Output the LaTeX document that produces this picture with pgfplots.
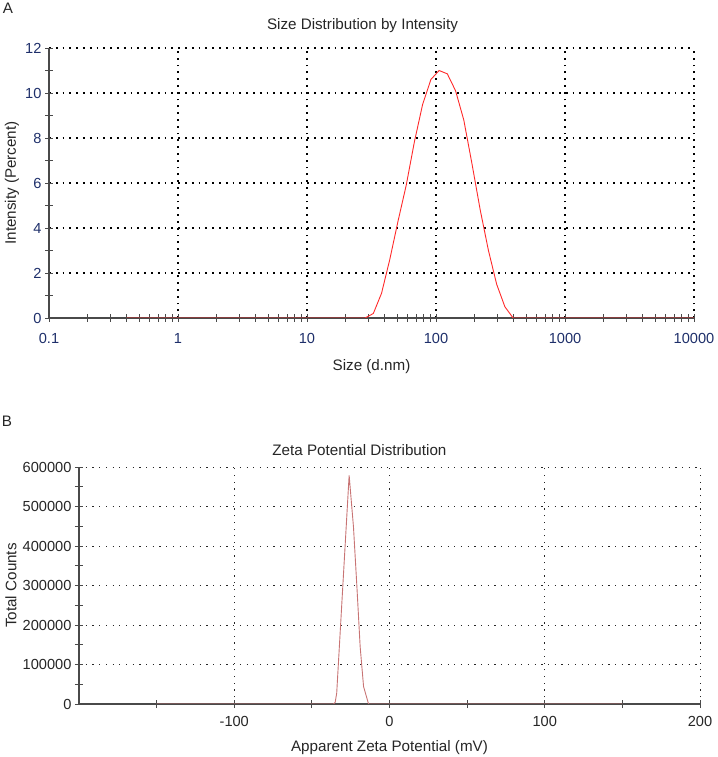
\documentclass[border=0pt]{standalone}
\usepackage{fontspec}
\setmainfont{Liberation Sans}
\usepackage{pgfplots}
\pgfplotsset{compat=1.18}
\definecolor{sizered}{HTML}{FF2A2A}
\definecolor{zetared}{HTML}{C87474}
\definecolor{tickblue}{HTML}{1E2F6A}
\definecolor{axisgray}{HTML}{4A4A4A}
\definecolor{textgray}{HTML}{262626}

\pgfplotsset{
  dlsaxis/.style={
    scale only axis,
    axis lines=left,
    axis line style={-, draw=axisgray, line width=1.3pt},
    tick style={draw=axisgray, line width=0.9pt},
    tick align=center,
    major tick length=8pt, minor tick length=8pt,
    grid=major,
    major grid style={black, line width=1.1pt, dash pattern=on 1.8pt off 5pt},
    /pgf/number format/assume math mode=true,
    ticklabel style={font=\fontsize{14.6}{17}\selectfont},
    label style={font=\fontsize{15.2}{18}\selectfont, text=textgray},
    title style={font=\fontsize{15.2}{18}\selectfont, text=textgray},
  }
}

% Size distribution (intensity %) on Zetasizer size bins
\pgfplotstableread{
size  intensity
0.4    0
28.21  0
32.67  0.2
37.84  1.1
43.82  2.6
50.75  4.3
58.77  5.9
68.06  7.84
78.82  9.5
91.28  10.6
105.7  11.0
122.4  10.85
141.8  10.1
164.2  8.8
190.1  6.85
220.2  4.8
255.0  3.0
295.3  1.5
342.0  0.5
396.1  0
10000  0
}\sizedata

% Zeta potential distribution (total counts)
\pgfplotstableread{
mv     counts
-150   0
-36    0
-35    4000
-34    28000
-26    579000
-23.2  448000
-21    297000
-18.9  145000
-16.7  44000
-13.5  0
150    0
}\zetadata

\begin{document}
\begin{tikzpicture}
\path[use as bounding box] (0pt,0pt) rectangle (717pt,757pt);

\node[font=\fontsize{15.2}{18}\selectfont, text=textgray] at (8pt,749pt) {A};
\node[font=\fontsize{15.2}{18}\selectfont, text=textgray] at (7pt,336pt) {B};

\begin{axis}[dlsaxis,
  at={(49pt,439pt)}, anchor=south west,
  width=645pt, height=270pt,
  xmode=log, xmin=0.1, xmax=10000, ymin=0, ymax=12,
  xtick={0.1,1,10,100,1000,10000},
  xticklabels={0.1,1,10,100,1000,10000},
  minor xtick={0.2,0.3,0.4,0.5,0.6,0.7,0.8,0.9,2,3,4,5,6,7,8,9,20,30,40,50,60,70,80,90,200,300,400,500,600,700,800,900,2000,3000,4000,5000,6000,7000,8000,9000},
  ytick={0,2,4,6,8,10,12},
  minor ytick={1,3,5,7,9,11},
  ticklabel style={text=tickblue},
  xticklabel style={yshift=-8pt},
  title={Size Distribution by Intensity},
  title style={at={(axis description cs:0.486,1)}, anchor=center, yshift=16pt},
  xlabel={Size (d.nm)},
  xlabel style={at={(axis description cs:0.5,0)}, anchor=center, yshift=-49pt},
  ylabel={Intensity (Percent)},
  ylabel style={at={(axis description cs:-0.0574,0.5)}, anchor=center},
]
\addplot[sizered, line width=0.9pt] table[x=size, y=intensity] {\sizedata};
\end{axis}

\begin{axis}[dlsaxis,
  at={(79pt,53pt)}, anchor=south west,
  width=621pt, height=237pt,
  xmin=-200, xmax=200, ymin=0, ymax=600000,
  xtick={-100,0,100,200},
  xticklabels={-100,0,100,200},
  minor xtick={-150,-50,50,150},
  ytick={0,100000,200000,300000,400000,500000,600000},
  yticklabels={0,100000,200000,300000,400000,500000,600000},
  minor ytick={50000,150000,250000,350000,450000,550000},
  scaled y ticks=false,
  ticklabel style={text=textgray},
  xticklabel style={yshift=-5pt},
  major grid style={black!85, line width=1pt, dash pattern=on 1.2pt off 5.5pt},
  title={Zeta Potential Distribution},
  title style={at={(axis description cs:0.4516,1)}, anchor=center, yshift=11pt},
  xlabel={Apparent Zeta Potential (mV)},
  xlabel style={at={(axis description cs:0.5,0)}, anchor=center, yshift=-44pt},
  ylabel={Total Counts},
  ylabel style={at={(axis description cs:-0.1095,0.5)}, anchor=center},
]
\addplot[zetared, line width=0.9pt] table[x=mv, y=counts] {\zetadata};
\end{axis}
\end{tikzpicture}
\end{document}
